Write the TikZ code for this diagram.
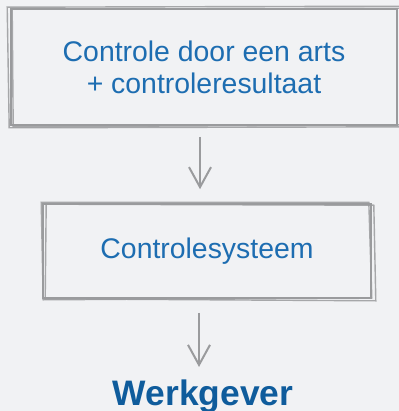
\documentclass[tikz,border=0pt]{standalone}
\usepackage{fontspec}
\setmainfont{Liberation Sans}
\usetikzlibrary{arrows.meta,positioning,calc}
\definecolor{paper}{HTML}{F1F2F4}
\definecolor{pencil}{HTML}{9A9B9D}
\definecolor{inkblue}{HTML}{1D6DB1}
\definecolor{darkblue}{HTML}{0F5C9C}

\begin{document}
\begin{tikzpicture}
  [x=0.5pt, y=-0.5pt,
   box/.style={draw=pencil, line width=0.8pt, text=inkblue, align=center,
               font=\fontsize{14.2}{16}\selectfont, inner sep=0pt},
   sketch/.style={draw=pencil, line width=0.7pt, opacity=0.85},
   flow/.style={draw=pencil, line width=1pt,
                -{Straight Barb[length=10pt, width=11pt, line width=1pt]}}]
  % page
  \fill[paper] (0,0) rectangle (399,411);
  \useasboundingbox (0,0) rectangle (399,411);

  % boxes
  \node[box, minimum width=193pt, minimum height=58pt] (check) at (204,67)
     {Controle door een arts\\+ controleresultaat};
  \node[box, minimum width=164pt, minimum height=47pt] (system) at (207,251)
     {Controlesysteem};
  \node[text=darkblue, font=\fontsize{17.7}{20}\bfseries\selectfont,
        inner sep=0pt, anchor=base] (boss) at (203,405) {Werkgever};

  % hand drawn extra strokes
  \draw[sketch] ([shift={(-3,-1)}]check.north west) -- ([shift={(8,-2)}]check.north east)
     -- ([shift={(8,1)}]check.south east) -- ([shift={(-1,2)}]check.south west) -- cycle;
  \draw[sketch] ([shift={(2,1)}]check.north west) -- ([shift={(6,0)}]check.north east)
     -- ([shift={(5,-1)}]check.south east) -- ([shift={(3,1)}]check.south west) -- cycle;
  \draw[sketch] ([shift={(-1,-1)}]system.north west) -- ([shift={(-3,-1)}]system.north east)
     -- ([shift={(0,-1)}]system.south east) -- ([shift={(1,1)}]system.south west) -- cycle;
  \draw[sketch] ([shift={(4,1)}]system.north west) -- ([shift={(2,2)}]system.north east)
     -- ([shift={(4,2)}]system.south east) -- ([shift={(3,0)}]system.south west) -- cycle;

  % arrows
  \coordinate (above) at (200,-20);
  \draw[pencil, line width=1pt] (above) -- ([xshift=-2pt, yshift=4pt]check.north);
  \draw[flow, shorten <=5.5pt, shorten >=7pt]
     ([xshift=-2pt]check.south) -- ([xshift=-3.5pt]system.north);
  \draw[flow, shorten <=7pt, shorten >=6pt]
     ([xshift=-4pt]system.south) -- ([xshift=-2pt]boss.north);
\end{tikzpicture}
\end{document}
